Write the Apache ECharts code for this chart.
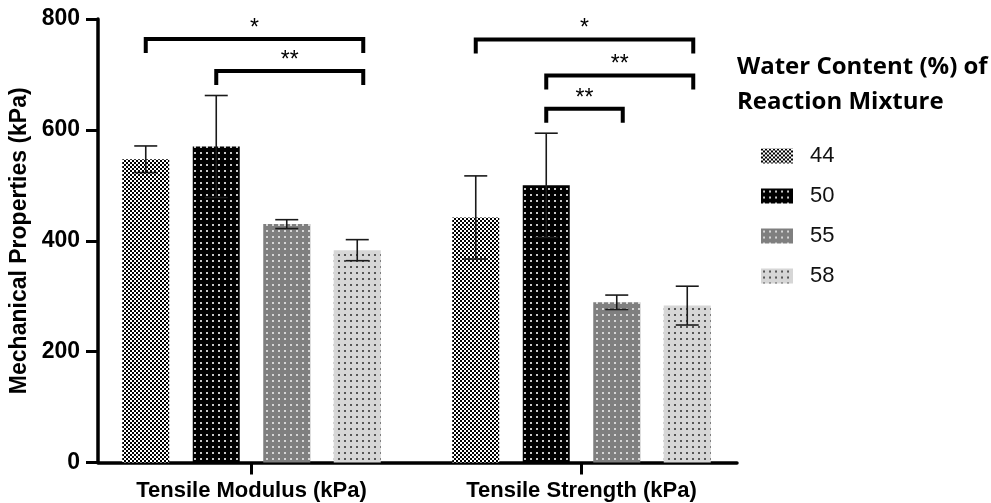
<!DOCTYPE html>
<html><head><meta charset="utf-8">
<script src="https://cdn.jsdelivr.net/npm/echarts@6/dist/echarts.min.js"></script>
<style>html,body{margin:0;padding:0;background:#fff}#c{width:991px;height:503px}</style>
</head><body><div id="c"></div>
<script>
// ---- data ----
const categories = ['Tensile Modulus (kPa)', 'Tensile Strength (kPa)'];
const seriesNames = ['44', '50', '55', '58'];
const means44 = [547, 442];
const means50 = [570, 500];
const means55 = [430, 289];
const means58 = [383, 283];
const err44 = [24, 75];
const err50 = [92, 94];
const err55 = [8, 13];
const err58 = [19, 35];
const yTicks = [0, 200, 400, 600, 800];
// significance brackets
const sigCat = [0, 0, 1, 1, 1];
const sigFrom = [0, 1, 0, 1, 1];
const sigTo = [3, 3, 3, 3, 2];
const sigLevel = [764, 706, 763, 698, 638];
const sigLabel = ['*', '**', '*', '**', '**'];

// ---- styling helpers ----
function pattern(size, bg, fg, cells) {
  const c = document.createElement('canvas');
  c.width = size; c.height = size;
  const g = c.getContext('2d');
  g.fillStyle = bg; g.fillRect(0, 0, size, size);
  g.fillStyle = fg;
  cells.forEach(r => g.fillRect(r[0], r[1], r[2], r[3]));
  return { image: c, repeat: 'repeat' };
}
const patterns = [
  pattern(4, '#ffffff', '#000000', [[0, 0, 2, 2], [2, 2, 2, 2]]),
  pattern(6, '#000000', '#c8c8c8', [[2, 2, 2, 2]]),
  pattern(6, '#7f7f7f', '#d6d6d6', [[2, 2, 2, 2]]),
  pattern(6, '#d6d6d6', '#555555', [[2, 2, 2, 2]])
];
const allMeans = [means44, means50, means55, means58];
const allErr = [err44, err50, err55, err58];
const BAR_W = 47;
const PITCH = BAR_W * 1.5;

const barSeries = seriesNames.map((n, i) => ({
  type: 'bar', name: n, data: allMeans[i], xAxisIndex: 0, yAxisIndex: 0,
  barWidth: BAR_W, barGap: '50%', itemStyle: { color: patterns[i] }, z: 2
}));

const errSeries = seriesNames.map((n, i) => ({
  type: 'custom', xAxisIndex: 0, yAxisIndex: 0, z: 5, silent: true,
  data: allMeans[i].map((m, k) => [k, m]),
  renderItem(params, api) {
    const k = params.dataIndex;
    const m = allMeans[i][k], e = allErr[i][k];
    const c = api.coord([k, m]);
    const x = c[0] + (i - 1.5) * PITCH;
    const top = api.coord([k, m + e])[1];
    const bot = api.coord([k, m - e])[1];
    const hw = 11.5;
    const st = { stroke: '#1a1a1a', lineWidth: 1.6 };
    return { type: 'group', children: [
      { type: 'line', shape: { x1: x, y1: top, x2: x, y2: bot }, style: st },
      { type: 'line', shape: { x1: x - hw, y1: top, x2: x + hw, y2: top }, style: st },
      { type: 'line', shape: { x1: x - hw, y1: bot, x2: x + hw, y2: bot }, style: st }
    ]};
  }
}));

const sigSeries = {
  type: 'custom', xAxisIndex: 0, yAxisIndex: 0, z: 6, silent: true,
  data: sigCat.map((c, k) => [c, sigLevel[k]]),
  renderItem(params, api) {
    const k = params.dataIndex;
    const c = api.coord([sigCat[k], sigLevel[k]]);
    const x1 = c[0] + (sigFrom[k] - 1.5) * PITCH;
    const x2 = c[0] + (sigTo[k] - 1.5) * PITCH + 6;
    const y = c[1];
    const leg = 14;
    return { type: 'group', children: [
      { type: 'polyline', shape: { points: [[x1, y + leg], [x1, y], [x2, y], [x2, y + leg]] },
        style: { stroke: '#000', lineWidth: 4, fill: null, lineJoin: 'miter' } },
      { type: 'text', x: (x1 + x2) / 2, y: y + 1,
        style: { text: sigLabel[k], align: 'center', verticalAlign: 'bottom',
          font: '23px "Liberation Sans"', fill: '#000' } }
    ]};
  }
};

const chart = echarts.init(document.getElementById('c'), null, { renderer: 'canvas' });
chart.setOption({
  animation: false,
  backgroundColor: '#fff',
  title: {
    text: 'Water Content (%) of\nReaction Mixture', left: 732, top: 45,
    textStyle: { fontFamily: 'Open Sans', fontWeight: 'bold', fontSize: 24, lineHeight: 35, color: '#000' }
  },
  legend: {
    data: seriesNames, orient: 'vertical', left: 756, top: 140,
    itemWidth: 32, itemHeight: 15, itemGap: 18, icon: 'rect',
    textStyle: { fontFamily: 'Liberation Sans', fontSize: 22, lineHeight: 22, color: '#111', padding: [0, 0, 0, 12] }
  },
  grid: [
    { left: 86.5, width: 660, top: 19, height: 443.5, outerBoundsMode: 'none', containLabel: false },
    { left: 98, width: 639, top: 19, height: 443.5, outerBoundsMode: 'none', containLabel: false }
  ],
  xAxis: [
    { type: 'category', gridIndex: 0, data: categories,
      axisLine: { show: false },
      axisTick: { show: true, alignWithLabel: true, length: 12, lineStyle: { color: '#000', width: 3 } },
      axisLabel: { fontFamily: 'Liberation Sans', fontWeight: 'bold', fontSize: 22, color: '#000', margin: 17 } },
    { type: 'value', gridIndex: 1, min: 0, max: 1,
      axisLine: { show: true, lineStyle: { color: '#000', width: 3.5 } },
      axisTick: { show: false }, axisLabel: { show: false }, splitLine: { show: false } }
  ],
  yAxis: [
    { type: 'value', gridIndex: 0, min: 0, max: 800, show: false, splitLine: { show: false } },
    { type: 'value', gridIndex: 1, min: yTicks[0], max: yTicks[yTicks.length - 1], interval: 200,
      name: 'Mechanical Properties (kPa)', nameLocation: 'middle', nameGap: 66,
      nameTextStyle: { fontFamily: 'Liberation Sans', fontWeight: 'bold', fontSize: 23, color: '#000' },
      axisLine: { show: true, lineStyle: { color: '#000', width: 3.5 } },
      axisTick: { show: true, length: 12, lineStyle: { color: '#000', width: 3 } },
      axisLabel: { fontFamily: 'Liberation Sans', fontWeight: 'bold', fontSize: 23, color: '#000', margin: 18 },
      splitLine: { show: false } }
  ],
  series: [...barSeries, ...errSeries, sigSeries]
});
</script></body></html>
